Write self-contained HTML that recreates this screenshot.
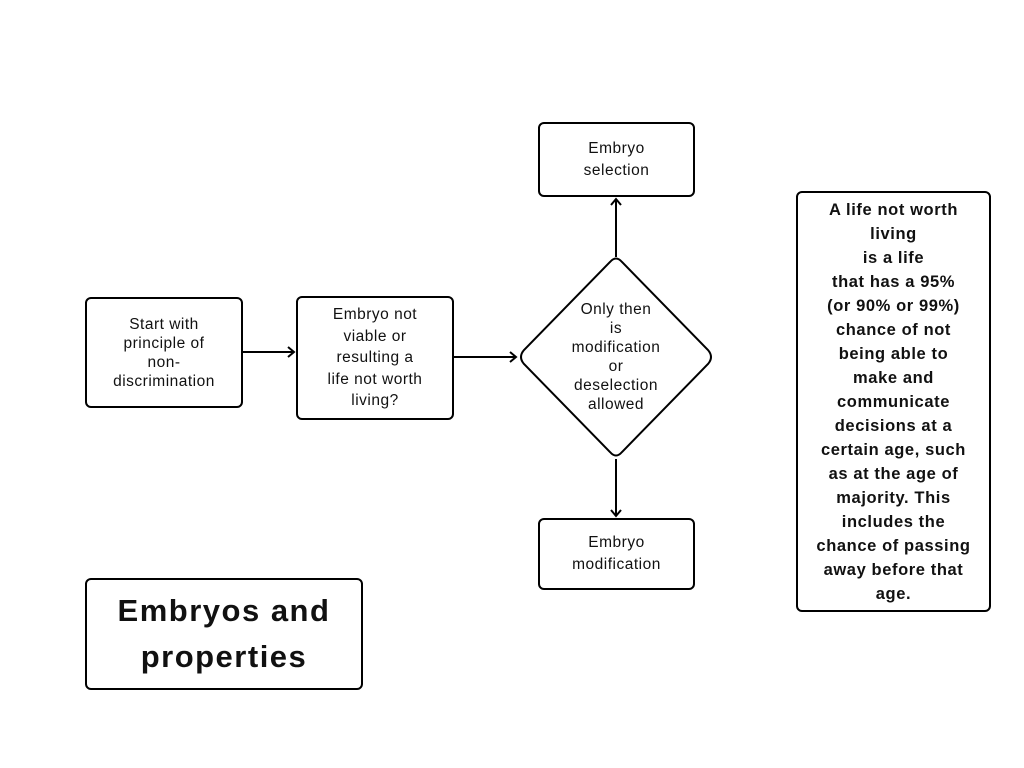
<!DOCTYPE html>
<html><head><style>
body{margin:0;width:1024px;height:768px;background:#fff;position:relative;font-family:"Liberation Sans",sans-serif;overflow:hidden}
.b{position:absolute;border:2px solid #000;border-radius:6px;box-sizing:border-box;display:flex;align-items:center;justify-content:center;text-align:center;font-size:15px;line-height:19px;color:#111;letter-spacing:0.5px;white-space:nowrap}
</style></head><body>
<svg width="1024" height="768" style="position:absolute;left:0;top:0">
<g stroke="#000" stroke-width="2" fill="none">
<line x1="243" y1="352" x2="294" y2="352"/><polyline points="288,347 294,352 288,357"/>
<line x1="454" y1="357" x2="516" y2="357"/><polyline points="510,352 516,357 510,362"/>
<line x1="616" y1="257" x2="616" y2="199"/><polyline points="611,205 616,199 621,205"/>
<line x1="616" y1="459" x2="616" y2="516"/><polyline points="611,510 616,516 621,510"/>
<path d="M610,262 Q616,255 622,262 L708,350 Q714,357 708,364 L622,452 Q616,459 610,452 L524,364 Q518,357 524,350 Z"/>
</g></svg>
<div class="b" style="left:85px;top:297px;width:158px;height:111px;font-size:15.5px">Start with<br>principle of<br>non-<br>discrimination</div>
<div class="b" style="left:296px;top:296px;width:158px;height:124px;line-height:21.5px;font-size:15.5px">Embryo not<br>viable or<br>resulting a<br>life not worth<br>living?</div>
<div class="b" style="left:560px;top:297px;width:112px;height:120px;border:none;line-height:19px;font-size:15.5px">Only then<br>is<br>modification<br>or<br>deselection<br>allowed</div>
<div class="b" style="left:538px;top:122px;width:157px;height:75px;line-height:22px;font-size:15.5px">Embryo<br>selection</div>
<div class="b" style="left:538px;top:518px;width:157px;height:72px;line-height:22px;font-size:15.5px">Embryo<br>modification</div>
<div class="b" style="left:796px;top:191px;width:195px;height:421px;font-weight:bold;font-size:16.5px;line-height:24px;letter-spacing:0.6px">A life not worth<br>living<br>is a life<br>that has a 95%<br>(or 90% or 99%)<br>chance of not<br>being able to<br>make and<br>communicate<br>decisions at a<br>certain age, such<br>as at the age of<br>majority. This<br>includes the<br>chance of passing<br>away before that<br>age.</div>
<div class="b" style="left:85px;top:578px;width:278px;height:112px;font-weight:bold;font-size:31px;line-height:46px;letter-spacing:1.5px">Embryos and<br>properties</div>
</body></html>
